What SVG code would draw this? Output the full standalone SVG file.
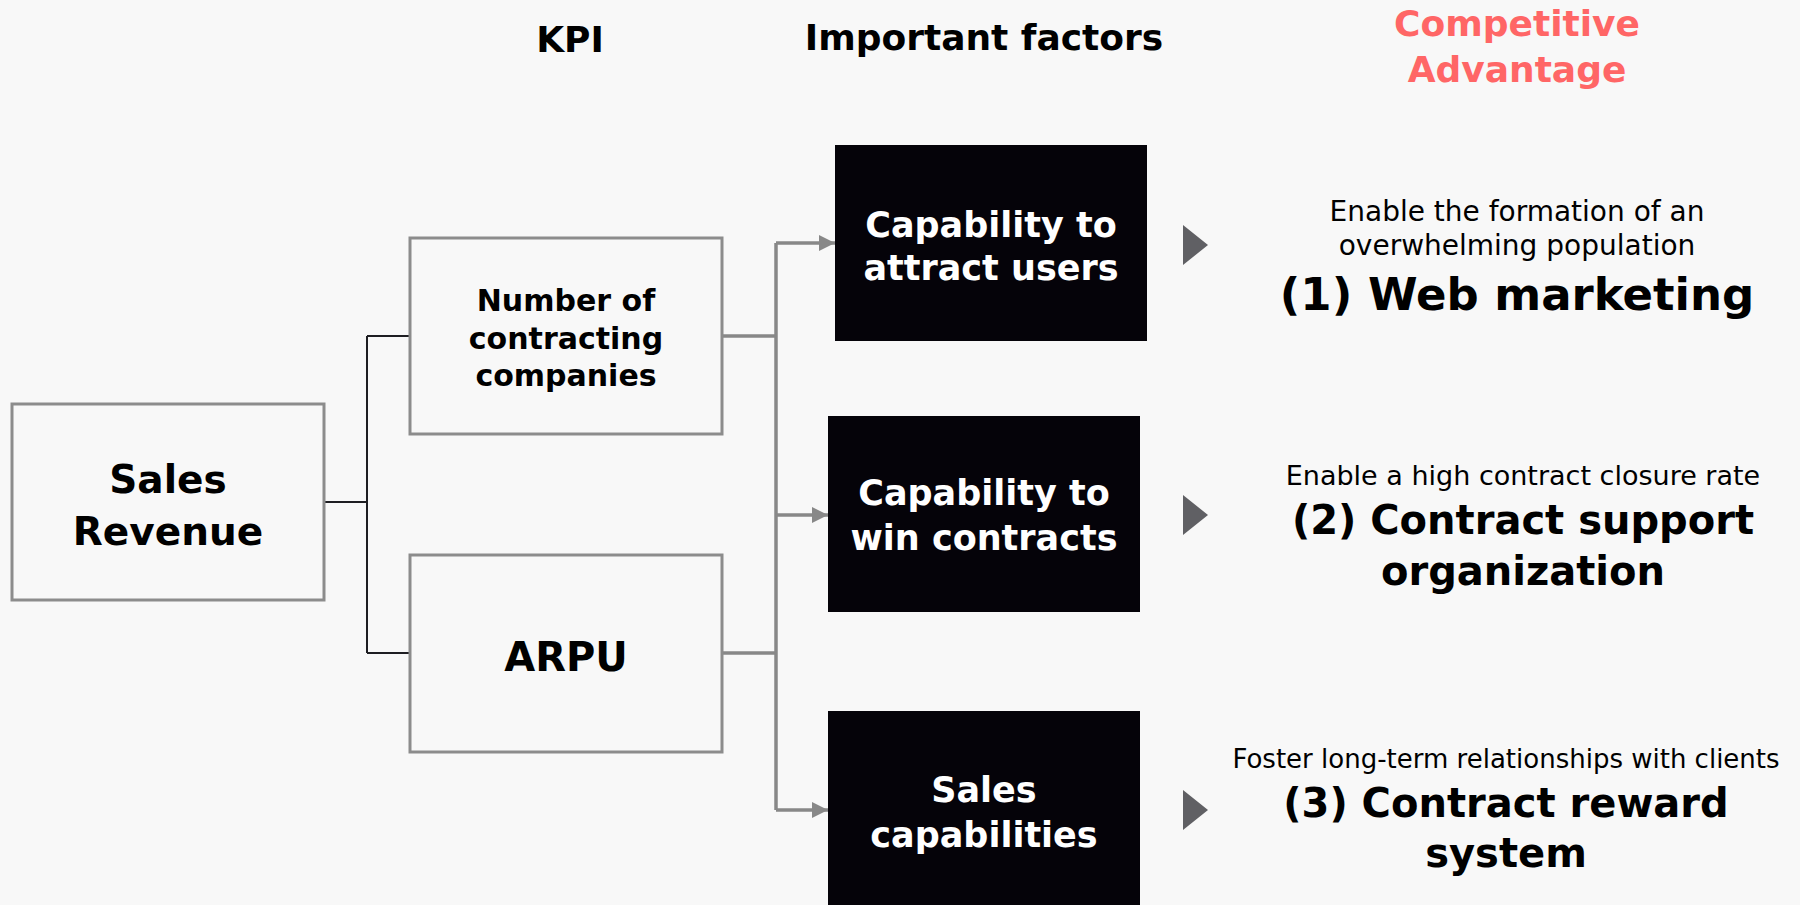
<svg xmlns="http://www.w3.org/2000/svg" width="1800" height="905" viewBox="0 0 1800 905">
  <defs>
    <marker id="arrow" markerUnits="userSpaceOnUse" markerWidth="16" markerHeight="16" refX="16" refY="8" orient="auto">
      <path d="M0,0 L16,8 L0,16 Z" fill="#888888"/>
    </marker>
    <style>
      text { font-family: "DejaVu Sans", Verdana, sans-serif; text-anchor: middle; }
      .hdr { font-size: 36px; font-weight: bold; fill: #000000; }
      .adv { font-size: 36px; font-weight: bold; fill: #FF6666; }
      .kpi-box { fill: #F8F8F8; stroke: #8C8C8C; stroke-width: 3; }
      .fac-box { fill: #050309; }
      .dark { font-weight: bold; fill: #000000; }
      .light { font-weight: bold; fill: #FFFFFF; font-size: 35px; }
      .sub { fill: #000000; }
      .big { font-weight: bold; fill: #000000; }
      .tree { fill: none; stroke: #1E1E22; stroke-width: 2; }
      .flow { fill: none; stroke: #888888; stroke-width: 3.5; }
      .pointer { fill: #606064; }
    </style>
  </defs>

  <rect x="0" y="0" width="1800" height="905" fill="#F8F8F8"/>

  <!-- column headings -->
  <g id="headings">
    <text class="hdr" x="570" y="52">KPI</text>
    <text class="hdr" x="984" y="50">Important factors</text>
    <text class="adv" x="1517" y="36">Competitive</text>
    <text class="adv" x="1517" y="82">Advantage</text>
  </g>

  <!-- connectors -->
  <g id="connectors">
    <path class="tree" d="M324,502 H367 M367,336 V653 M367,336 H410 M367,653 H410"/>
    <path class="flow" d="M722,336 H776 M722,653 H776 M776,243 V810"/>
    <path class="flow" d="M776,243 H835" marker-end="url(#arrow)"/>
    <path class="flow" d="M776,515 H828" marker-end="url(#arrow)"/>
    <path class="flow" d="M776,810 H828" marker-end="url(#arrow)"/>
  </g>

  <g id="sales-revenue">
    <rect class="kpi-box" x="12" y="404" width="312" height="196"/>
    <text class="dark" x="168" y="493" font-size="39">Sales</text>
    <text class="dark" x="168" y="545" font-size="39">Revenue</text>
  </g>

  <g id="kpi-contracting">
    <rect class="kpi-box" x="410" y="238" width="312" height="196"/>
    <text class="dark" x="566" y="311" font-size="30">Number of</text>
    <text class="dark" x="566" y="349" font-size="30">contracting</text>
    <text class="dark" x="566" y="386" font-size="30">companies</text>
  </g>

  <g id="kpi-arpu">
    <rect class="kpi-box" x="410" y="555" width="312" height="197"/>
    <text class="dark" x="566" y="671" font-size="40">ARPU</text>
  </g>

  <g id="factor-attract">
    <rect class="fac-box" x="835" y="145" width="312" height="196"/>
    <text class="light" x="991" y="237">Capability to</text>
    <text class="light" x="991" y="280">attract users</text>
  </g>

  <g id="factor-win">
    <rect class="fac-box" x="828" y="416" width="312" height="196"/>
    <text class="light" x="984" y="505">Capability to</text>
    <text class="light" x="984" y="550">win contracts</text>
  </g>

  <g id="factor-sales">
    <rect class="fac-box" x="828" y="711" width="312" height="200"/>
    <text class="light" x="984" y="802">Sales</text>
    <text class="light" x="984" y="847">capabilities</text>
  </g>

  <g id="advantage-1">
    <polygon class="pointer" points="1183,225 1208,245 1183,265"/>
    <text class="sub" x="1517" y="221" font-size="28">Enable the formation of an</text>
    <text class="sub" x="1517" y="255" font-size="28">overwhelming population</text>
    <text class="big" x="1517" y="310" font-size="45">(1) Web marketing</text>
  </g>

  <g id="advantage-2">
    <polygon class="pointer" points="1183,495 1208,515 1183,535"/>
    <text class="sub" x="1523" y="485" font-size="27">Enable a high contract closure rate</text>
    <text class="big" x="1523" y="534" font-size="40">(2) Contract support</text>
    <text class="big" x="1523" y="585" font-size="40">organization</text>
  </g>

  <g id="advantage-3">
    <polygon class="pointer" points="1183,790 1208,810 1183,830"/>
    <text class="sub" x="1506" y="768" font-size="26">Foster long-term relationships with clients</text>
    <text class="big" x="1506" y="817" font-size="40">(3) Contract reward</text>
    <text class="big" x="1506" y="867" font-size="40">system</text>
  </g>
</svg>
